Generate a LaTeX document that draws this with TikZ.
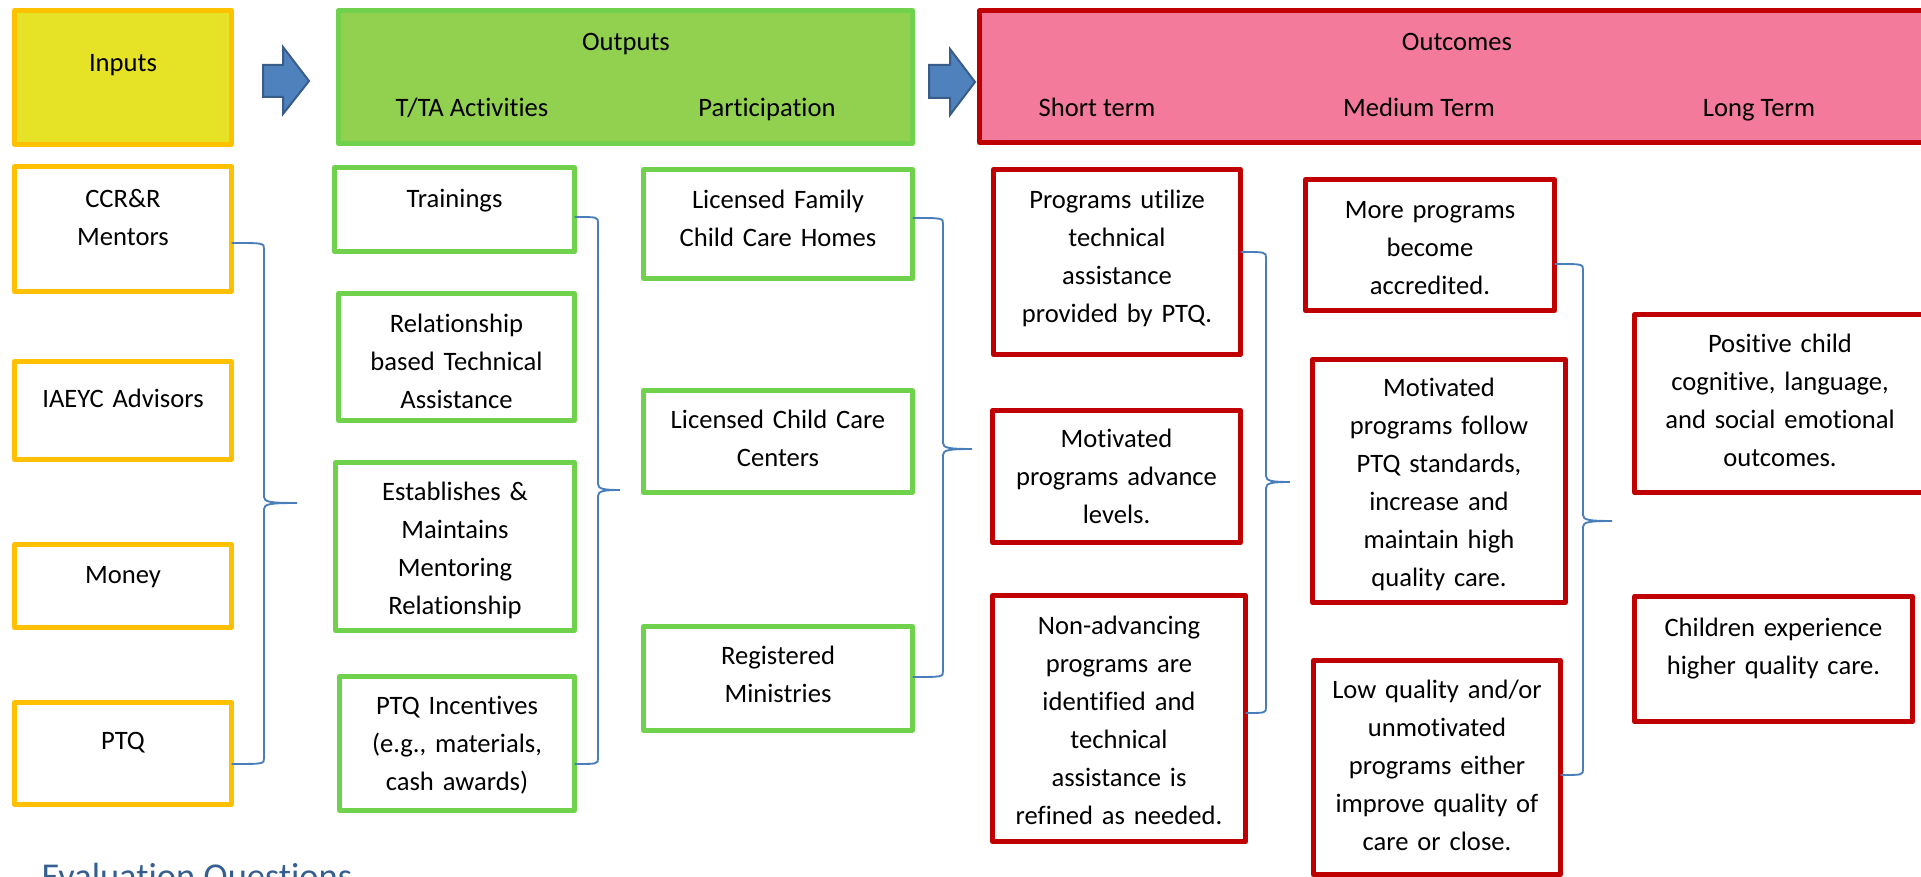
\documentclass[tikz,border=0pt]{standalone}
\usepackage{fontspec}
\setmainfont{Carlito}[Ligatures=NoCommon]
\definecolor{inyellow}{RGB}{230,226,38}
\definecolor{inorange}{RGB}{255,192,0}
\definecolor{outfill}{RGB}{146,208,80}
\definecolor{outline}{RGB}{112,210,76}
\definecolor{ocfill}{RGB}{244,122,156}
\definecolor{ocline}{RGB}{192,0,0}
\definecolor{arrfill}{RGB}{79,129,189}
\definecolor{arrline}{RGB}{56,93,138}
\definecolor{bracecol}{RGB}{74,126,187}
\definecolor{evalblue}{RGB}{54,95,145}
% box: name, style, x1, y1, x2, y2 (outer edges, pixel units)
\newcommand\bx[6]{%
  \pgfmathsetmacro\bxw{(#5-#3-5)*0.4}%
  \pgfmathsetmacro\bxh{(#6-#4-5)*0.4}%
  \node[#2, minimum width=\bxw pt, minimum height=\bxh pt] (#1) at ({(#3+#5)/2},{(#4+#6)/2}) {};}
% text: name, x centre, first baseline, lines
\newcommand\tx[4]{\node[txt] (#1-t) at (#2,#3+2.5) {#4};}
% brace: top node, y top, bottom node, y bottom, x vertical, x tip, y tip
\newcommand\brc[7]{%
  \draw[bracel] (#1.east |- 0,#2) .. controls (#5,#2) .. (#5,#2+6)
     -- (#5,#7-6) .. controls (#5,#7-1) and (#5+6,#7) .. (#6,#7)
     .. controls (#5+6,#7) and (#5,#7+1) .. (#5,#7+6)
     -- (#5,#4-6) .. controls (#5,#4) .. (#3.east |- 0,#4);}
\begin{document}
\begin{tikzpicture}[x=0.4pt,y=-0.4pt,
  box/.style={rectangle, draw, line width=2pt, line join=round, outer sep=0pt, inner sep=0pt},
  inhdr/.style={box, draw=inorange, fill=inyellow},
  outhdr/.style={box, draw=outline, fill=outfill},
  ochdr/.style={box, draw=ocline, fill=ocfill},
  inbox/.style={box, draw=inorange, fill=white},
  outbox/.style={box, draw=outline, fill=white},
  ocbox/.style={box, draw=ocline, fill=white},
  txt/.style={font=\fontsize{10.64pt}{15.2pt}\selectfont, text width=130pt, align=center, inner sep=0pt, anchor=base},
  hdr/.style={font=\fontsize{10.64pt}{15.2pt}\selectfont, inner sep=0pt, anchor=base},
  bracel/.style={draw=bracecol, line width=0.75pt},
  blockarrow/.style={fill=arrfill, draw=arrline, line width=0.8pt, line join=miter}]
\useasboundingbox (0,0) rectangle (1921,877);

% header boxes
\bx{inputs}{inhdr}{12}{8}{234}{147}
\bx{outputs}{outhdr}{336}{8}{915}{146}
\bx{outcomes}{ochdr}{977}{8}{1945}{145}
\node[hdr] (inputs-t) at (123,72) {Inputs};
\node[hdr] (outputs-t) at (626,51) {Outputs};
\node[hdr] (tta-t) at (472,117) {T/TA Activities};
\node[hdr] (part-t) at (767,117) {Participation};
\node[hdr] (outcomes-t) at (1457,51) {Outcomes};
\node[hdr] (short-t) at (1097,117) {Short term};
\node[hdr] (medium-t) at (1419,117) {Medium Term};
\node[hdr] (long-t) at (1759,117) {Long Term};

% block arrows
\draw[blockarrow] (263,65) -- (283,65) -- (283,47) -- (309,81) -- (283,114) -- (283,97) -- (263,97) -- cycle;
\draw[blockarrow] (929,65) -- (950,65) -- (950,49) -- (975,82) -- (950,115) -- (950,98) -- (929,98) -- cycle;

% inputs
\bx{ccrr}{inbox}{12}{164}{234}{294}
\bx{iaeyc}{inbox}{12}{359}{234}{462}
\bx{money}{inbox}{12}{542}{234}{630}
\bx{ptq}{inbox}{12}{700}{234}{807}
\tx{ccrr}{123}{205}{CCR\&R\\Mentors}
\tx{iaeyc}{123}{405}{IAEYC Advisors}
\tx{money}{123}{581}{Money}
\tx{ptq}{123}{747}{PTQ}

% T/TA activities
\bx{trainings}{outbox}{332}{165}{577}{254}
\bx{relat}{outbox}{336}{291}{577}{423}
\bx{establ}{outbox}{333}{460}{577}{633}
\bx{ptqinc}{outbox}{337}{674}{577}{813}
\tx{trainings}{454.5}{205}{Trainings}
\tx{relat}{456.5}{330}{Relationship\\based Technical\\Assistance}
\tx{establ}{455}{498}{Establishes \&\\Maintains\\Mentoring\\Relationship}
\tx{ptqinc}{457}{712}{PTQ Incentives\\(e.g., materials,\\cash awards)}

% participation
\bx{lfam}{outbox}{641}{167}{915}{281}
\bx{lccc}{outbox}{641}{388}{915}{495}
\bx{reg}{outbox}{641}{624}{915}{733}
\tx{lfam}{778}{206}{Licensed Family\\Child Care Homes}
\tx{lccc}{778}{426}{Licensed Child Care\\Centers}
\tx{reg}{778}{662}{Registered\\Ministries}

% short term
\bx{putil}{ocbox}{991}{167}{1243}{357}
\bx{motadv}{ocbox}{990}{408}{1243}{545}
\bx{nonadv}{ocbox}{990}{593}{1248}{844}
\tx{putil}{1117}{206}{Programs utilize\\technical\\assistance\\provided by PTQ.}
\tx{motadv}{1116.5}{445}{Motivated\\programs advance\\levels.}
\tx{nonadv}{1119}{632}{Non-advancing\\programs are\\identified and\\technical\\assistance is\\refined as needed.}

% medium term
\bx{more}{ocbox}{1303}{177}{1557}{313}
\bx{motfol}{ocbox}{1310}{357}{1568}{605}
\bx{lowq}{ocbox}{1311}{658}{1563}{877}
\tx{more}{1430}{216}{More programs\\become\\accredited.}
\tx{motfol}{1439}{394}{Motivated\\programs follow\\PTQ standards,\\increase and\\maintain high\\quality care.}
\tx{lowq}{1437}{696}{Low quality and/or\\unmotivated\\programs either\\improve quality of\\care or close.}

% long term
\bx{positive}{ocbox}{1632}{312}{1945}{495}
\bx{children}{ocbox}{1632}{594}{1915}{724}
\tx{positive}{1780}{350}{Positive child\\cognitive, language,\\and social emotional\\outcomes.}
\tx{children}{1773.5}{634}{Children experience\\higher quality care.}

% braces
\brc{ccrr}{243}{ptq}{764}{264}{297}{503}
\brc{trainings}{217}{ptqinc}{764}{598}{620}{490}
\brc{lfam}{218}{reg}{677}{943}{972}{449}
\brc{putil}{252}{nonadv}{713}{1266}{1290}{482}
\brc{more}{264}{lowq}{775}{1583}{1612}{521}

% heading cut at the bottom (as in the reference)
\node[anchor=base west, inner sep=0pt, font=\fontsize{14.56pt}{17pt}\selectfont, text=evalblue] (evq) at (41,889) {Evaluation Questions};
\end{tikzpicture}
\end{document}
